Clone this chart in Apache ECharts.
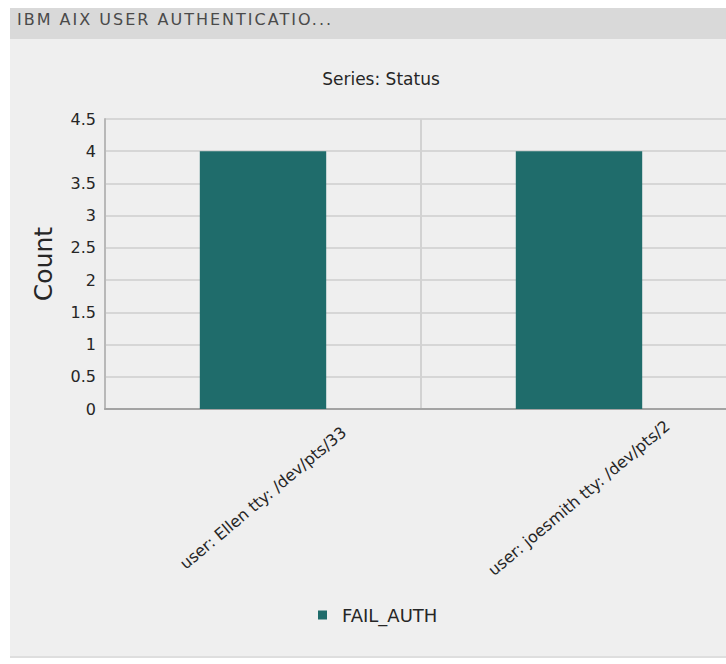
<!DOCTYPE html>
<html>
<head>
<meta charset="utf-8">
<script src="https://cdn.jsdelivr.net/npm/echarts@6/dist/echarts.min.js"></script>
<style>
  html, body { margin: 0; padding: 0; background: #ffffff; overflow: hidden; width: 726px; height: 664px; }
  #panel { position: absolute; left: 10px; top: 8px; width: 716px; height: 648px; background: #efefef; border-bottom: 2px solid #dedede; }
  #panelHead { position: absolute; left: 10px; top: 8px; width: 716px; height: 31px; background: #d9d9d9; }
  #panelTitle { position: absolute; left: 17px; top: 12px; font: 16px/1 "DejaVu Sans", sans-serif; letter-spacing: 2px; color: #4a4a4a; white-space: nowrap; }
  /* the plot runs past the right edge of the panel, so the canvas is wider than the page */
  #chart { position: absolute; left: 0; top: 0; width: 760px; height: 664px; }
</style>
</head>
<body>
<div id="panel"></div>
<div id="panelHead"></div>
<div id="panelTitle">IBM AIX USER AUTHENTICATIO...</div>
<div id="chart"></div>
<script>
// Failed authentication counts per user / terminal
const categories = ['user: Ellen tty: /dev/pts/33', 'user: joesmith tty: /dev/pts/2'];
const failAuthCounts = [4, 4];
const seriesName = 'FAIL_AUTH';
const chartTitle = 'Series: Status';
const yAxisName = 'Count';
const yMin = 0;
const yMax = 4.5;
const yStep = 0.5;

const FONT = '"DejaVu Sans", sans-serif';
const TEXT = '#262626';

const chart = echarts.init(document.getElementById('chart'), null, { renderer: 'svg' });
chart.setOption({
  backgroundColor: 'transparent',
  animation: false,
  graphic: [{
    type: 'text',
    x: 381,
    y: 79,
    style: {
      text: chartTitle,
      fill: TEXT,
      font: '17px ' + FONT,
      textAlign: 'center',
      textVerticalAlign: 'middle'
    }
  }],
  legend: {
    data: [seriesName],
    left: 313,
    top: 601,
    icon: 'path://M0,0L10,0L10,10L0,10Z',
    itemWidth: 29,
    itemHeight: 9,
    textStyle: { color: TEXT, fontFamily: FONT, fontSize: 18 }
  },
  grid: { left: 105, top: 119, width: 632, height: 290, containLabel: false },
  xAxis: {
    type: 'category',
    data: categories,
    boundaryGap: true,
    axisLine: { show: true, lineStyle: { color: '#a3a3a3', width: 2 } },
    axisTick: { show: false },
    splitLine: { show: true, lineStyle: { color: '#d2d2d2', width: 2 } },
    axisLabel: {
      interval: 0,
      rotate: 40,
      align: 'center',
      verticalAlign: 'middle',
      margin: 89,
      color: TEXT,
      fontFamily: FONT,
      fontSize: 16
    }
  },
  yAxis: {
    type: 'value',
    min: yMin,
    max: yMax,
    interval: yStep,
    name: yAxisName,
    nameLocation: 'middle',
    nameGap: 49,
    nameTextStyle: { color: TEXT, fontFamily: FONT, fontSize: 25 },
    axisLine: { show: true, lineStyle: { color: '#b8b8b8', width: 2 } },
    axisTick: { show: false },
    splitLine: { show: true, lineStyle: { color: '#d6d6d6', width: 2 } },
    axisLabel: { color: TEXT, fontFamily: FONT, fontSize: 16, margin: 9 }
  },
  series: [{
    name: seriesName,
    type: 'bar',
    data: failAuthCounts,
    barWidth: '40%',
    itemStyle: { color: '#1f6c6b' }
  }]
});
</script>
</body>
</html>
